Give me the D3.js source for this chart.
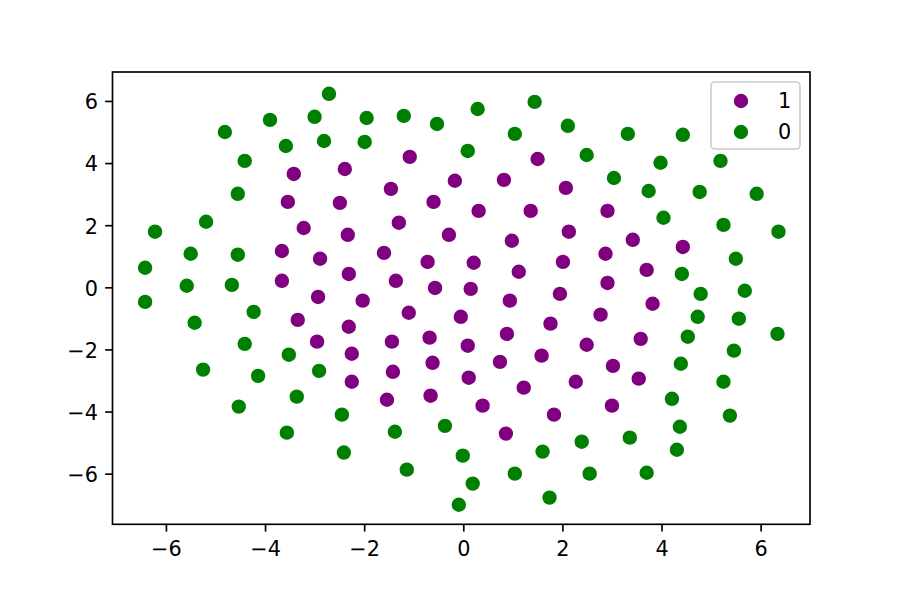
<!DOCTYPE html>
<html><head><meta charset="utf-8">
<script src="https://cdn.jsdelivr.net/npm/d3@7"></script>
<style>body{margin:0;background:#fff}</style>
</head><body>
<svg id="chart" width="900" height="600"></svg>
<script>
// ---- data ----
const seriesLabels = ["1", "0"];
const xTicks = [-6, -4, -2, 0, 2, 4, 6];
const yTicks = [-6, -4, -2, 0, 2, 4, 6];
const xDomain = [-7.078, 6.996];
const yDomain = [-7.630, 6.932];

const pointsClass1 = [
  [-3.42,3.65],[-2.39,3.81],[-3.54,2.75],[-2.49,2.72],[-3.22,1.91],[-2.33,1.69],[-3.66,1.17],[-2.89,0.92],
  [-3.66,0.21],[-2.31,0.43],[-2.93,-0.31],[-1.08,4.20],[-1.46,3.17],[-0.17,3.43],[0.82,3.46],[1.50,4.13],
  [2.07,3.20],[-0.60,2.75],[0.31,2.46],[1.36,2.46],[-1.30,2.08],[-0.29,1.69],[0.98,1.50],[2.13,1.79],
  [-1.60,1.11],[-0.72,0.82],[0.21,0.79],[1.12,0.50],[2.01,0.82],[-1.36,0.21],[-0.57,-0.02],[0.15,-0.05],
  [1.95,-0.21],[-2.03,-0.43],[0.94,-0.43],[2.91,2.46],[3.42,1.53],[4.43,1.30],[2.87,1.08],[3.70,0.56],
  [2.91,0.14],[3.82,-0.53],[-3.34,-1.05],[-2.31,-1.27],[-2.95,-1.75],[-2.25,-2.14],[-2.25,-3.04],[-1.10,-0.82],
  [-0.05,-0.95],[-1.44,-1.75],[-0.68,-1.62],[0.09,-1.88],[0.88,-1.50],[1.76,-1.17],[-1.42,-2.72],[-0.62,-2.43],
  [0.74,-2.40],[1.58,-2.20],[-1.54,-3.62],[-0.66,-3.49],[0.11,-2.91],[1.22,-3.23],[2.27,-3.04],[0.39,-3.81],
  [1.83,-4.10],[0.86,-4.71],[2.77,-0.88],[2.49,-1.85],[3.58,-1.66],[3.02,-2.53],[3.54,-2.94],[3.00,-3.81]
];

const pointsClass0 = [
  [-6.42,0.63],[-6.42,-0.47],[-6.22,1.79],[-5.50,1.08],[-5.58,0.05],[-5.42,-1.14],[-5.25,-2.65],[-5.19,2.11],
  [-4.81,5.00],[-4.55,3.01],[-4.55,1.05],[-4.67,0.08],[-4.23,-0.79],[-4.41,-1.82],[-4.53,-3.84],[-4.14,-2.85],
  [-4.41,4.07],[-3.52,-2.17],[-3.36,-3.52],[-3.56,-4.68],[-2.91,-2.69],[-2.45,-4.10],[-2.41,-5.32],[-3.90,5.39],
  [-3.58,4.55],[-3.00,5.49],[-2.81,4.71],[-2.71,6.23],[-1.38,-4.65],[-0.37,-4.46],[-1.14,-5.87],[-0.09,-7.00],
  [0.19,-6.32],[-0.01,-5.42],[1.04,-6.00],[1.60,-5.29],[1.74,-6.77],[2.39,-4.97],[2.55,-6.00],[3.36,-4.84],
  [3.70,-5.97],[4.31,-5.23],[4.37,-4.49],[4.21,-3.59],[5.38,-4.13],[5.25,-3.04],[4.39,-2.46],[5.46,-2.04],
  [4.53,-1.59],[6.34,-1.50],[4.73,-0.95],[5.56,-1.01],[4.79,-0.21],[5.68,-0.11],[5.50,0.92],[4.41,0.43],
  [6.36,1.79],[5.25,2.01],[4.04,2.24],[5.92,3.01],[4.77,3.07],[3.74,3.10],[3.04,3.52],[5.19,4.07],
  [3.98,4.01],[4.43,4.91],[3.32,4.94],[2.49,4.26],[2.11,5.20],[1.44,5.97],[1.04,4.94],[0.29,5.74],
  [0.09,4.39],[-0.53,5.26],[-1.20,5.52],[-1.95,5.45],[-1.99,4.68]
];

const seriesPoints = [pointsClass1, pointsClass0];

// ---- style ----
const colors = ["#800080", "#008000"];
const font = "'DejaVu Sans', sans-serif";
const fontSize = 20.8;
const lw = 1.67;
const markerR = 7.2;

const svg = d3.select("#chart");
const L = 112.5, R = 810, T = 72, B = 524.3;

const x = d3.scaleLinear().domain(xDomain).range([L, R]);
const y = d3.scaleLinear().domain(yDomain).range([B, T]);

const fmt = d => (d < 0 ? "\u2212" + Math.abs(d) : String(d));

// points
seriesPoints.forEach((pts, i) => {
  svg.append("g").selectAll("circle").data(pts).enter().append("circle")
    .attr("cx", d => x(d[0])).attr("cy", d => y(d[1]))
    .attr("r", markerR).attr("fill", colors[i]);
});

// axes
const gx = svg.append("g").attr("transform", `translate(0,${B})`)
  .call(d3.axisBottom(x).tickValues(xTicks).tickFormat(fmt).tickSize(7.3).tickPadding(10));
const gy = svg.append("g").attr("transform", `translate(${L},0)`)
  .call(d3.axisLeft(y).tickValues(yTicks).tickFormat(fmt).tickSize(7.3).tickPadding(7.3));
[gx, gy].forEach(g => {
  g.select(".domain").remove();
  g.selectAll(".tick line").attr("stroke", "#000").attr("stroke-width", lw);
  g.selectAll(".tick text").attr("fill", "#000").style("font-family", font).style("font-size", fontSize + "px");
});
gy.selectAll(".tick text").attr("dy", "0.38em");

// spines
svg.append("rect").attr("x", L).attr("y", T).attr("width", R - L).attr("height", B - T)
  .attr("fill", "none").attr("stroke", "#000").attr("stroke-width", lw);

// legend
const lg = svg.append("g");
lg.append("rect").attr("x", 711).attr("y", 82).attr("width", 89).attr("height", 67)
  .attr("rx", 4).attr("fill", "#fff").attr("fill-opacity", 0.8)
  .attr("stroke", "#cccccc").attr("stroke-width", 1.6);
seriesLabels.forEach((lab, i) => {
  const cy = 101 + i * 31;
  lg.append("circle").attr("cx", 741).attr("cy", cy).attr("r", markerR).attr("fill", colors[i]);
  lg.append("text").attr("x", 778).attr("y", cy + 7).text(lab)
    .attr("fill", "#000").style("font-family", font).style("font-size", fontSize + "px");
});
</script>
</body></html>
